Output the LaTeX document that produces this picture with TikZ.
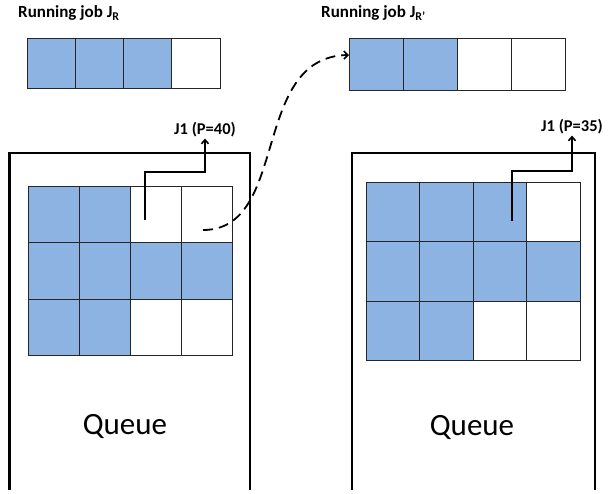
\documentclass[tikz,border=0pt]{standalone}
\usepackage{fontspec}
\setmainfont{Carlito}
\usetikzlibrary{arrows.meta}
\definecolor{cellblue}{HTML}{8DB3E2}
\begin{document}
\begin{tikzpicture}[x=1pt,y=-1pt,
  cellbase/.style={draw=black!85, line width=0.8pt, inner sep=0pt, outer sep=0pt},
  jrcell/.style={cellbase, minimum width=48.25pt, minimum height=50pt},
  jrpcell/.style={cellbase, minimum width=54pt, minimum height=52pt},
  lqcell/.style={cellbase, minimum width=51pt, minimum height=56.5pt},
  rqcell/.style={cellbase, minimum width=53.5pt, minimum height=59.6pt},
  frame/.style={line width=2.6pt, line join=miter},
  title/.style={font=\bfseries\fontsize{17}{20}\selectfont, anchor=west, inner sep=0pt},
  joblabel/.style={font=\bfseries\fontsize{16.5}{19}\selectfont, inner sep=1pt},
  queuelabel/.style={font=\fontsize{31}{36}\selectfont, inner sep=0pt},
  jobpath/.style={line width=2pt, -{Straight Barb[length=4pt,width=7pt,line width=1.6pt]}},
  move/.style={line width=1.8pt, dash pattern=on 10pt off 6pt,
    -{Straight Barb[length=4pt,width=8pt,line width=1.6pt]}}]
\useasboundingbox (0,0) rectangle (611,494);

% running jobs
\node[title] (tl) at (18,13) {Running job J\textsubscript{R}};
\node[title] (tr) at (321,13) {Running job J\textsubscript{R’}};

\foreach \f [count=\i] in {cellblue,cellblue,cellblue,white}
  \node[jrcell, fill=\f] (jr\i) at ({27+48.25*(\i-0.5)},63) {};
\foreach \f [count=\i] in {cellblue,cellblue,white,white}
  \node[jrpcell, fill=\f] (jrp\i) at ({349+54*(\i-0.5)},64) {};

% queues
\draw[frame] (9.5,490) -- (9.5,153) -- (250,153) -- (250,490);
\draw[frame] (352,490) -- (352,153) -- (595,153) -- (595,490);

\foreach \r/\p in {1/{cellblue,cellblue,white,white},
                   2/{cellblue,cellblue,cellblue,cellblue},
                   3/{cellblue,cellblue,white,white}}
  \foreach \f [count=\c] in \p
    \node[lqcell, fill=\f] (lq\r\c) at ({28+51*(\c-0.5)},{186+56.5*(\r-0.5)}) {};

\foreach \r/\p in {1/{cellblue,cellblue,cellblue,white},
                   2/{cellblue,cellblue,cellblue,cellblue},
                   3/{cellblue,cellblue,white,white}}
  \foreach \f [count=\c] in \p
    \node[rqcell, fill=\f] (rq\r\c) at ({366+53.5*(\c-0.5)},{182+59.6*(\r-0.5)}) {};

\node[queuelabel] (ql) at (125,426) {Queue};
\node[queuelabel] (qr) at (472,427) {Queue};

% job J1 leaving the queues
\node[joblabel] (j1l) at (205,130) {J1 (P=40)};
\node[joblabel] (j1r) at (572,127) {J1 (P=35)};
\coordinate (sl) at (145,220);
\coordinate (sr) at (512,221);
\draw[jobpath] (sl) -- ++(0,-48) -| (j1l.south);
\draw[jobpath] (sr) -- ++(0,-50) -| (j1r.south);

% moving J1 into the running job
\coordinate (ms) at (203,230);
\draw[move] (ms) .. controls (290,230) and (250,57) .. ([yshift=9pt]jrp1.west);
\end{tikzpicture}
\end{document}
